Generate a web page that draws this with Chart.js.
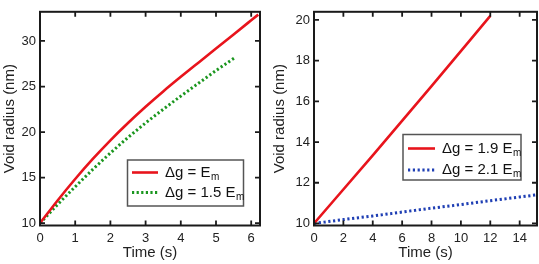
<!DOCTYPE html>
<html>
<head>
<meta charset="utf-8">
<script src="https://cdn.jsdelivr.net/npm/chart.js@4.4.1/dist/chart.umd.min.js"></script>
<style>
  body { margin: 0; background: #fff; width: 539px; height: 264px; overflow: hidden; position: relative; }
  canvas { position: absolute; top: 0; }
  #left { left: 0; }
  #right { left: 270px; }
</style>
</head>
<body>
<canvas id="left" width="270" height="264"></canvas>
<canvas id="right" width="269" height="264"></canvas>
<script>
// left panel: dg = Em and dg = 1.5 Em
var timeEm = [0, 0.5, 1, 1.5, 2, 2.5, 3, 3.5, 4, 4.5, 5, 5.5, 6, 6.2];
var radiusEm = [10, 12.5, 14.85, 17.05, 19.1, 21.0, 22.78, 24.46, 26.06, 27.62, 29.17, 30.72, 32.27, 32.89];
var time15 = [0, 0.5, 1, 1.5, 2, 2.5, 3, 3.5, 4, 4.5, 5, 5.55];
var radius15 = [10, 12.05, 14.0, 15.9, 17.7, 19.4, 21.0, 22.5, 23.95, 25.35, 26.75, 28.2];

// right panel: dg = 1.9 Em and dg = 2.1 Em
var time19 = [0, 4, 8, 12];
var radius19 = [10, 13.35, 16.75, 20.2];
var time21 = [0, 2, 4, 6, 8, 10, 12, 14, 15.2];
var radius21 = [10, 10.19, 10.37, 10.56, 10.75, 10.93, 11.12, 11.3, 11.41];

var legendLeft = ["Δg = E", "Δg = 1.5 E"];
var legendRight = ["Δg = 1.9 E", "Δg = 2.1 E"];
var legendSub = "m";

var FONT = "'Liberation Sans', Arial, sans-serif";

function pts(xs, ys) {
    return xs.map(function (x, i) { return {x: x, y: ys[i]}; });
}

// frame round the plot and inward ticks on all four sides
var framePlugin = {
    id: 'frame',
    afterDatasetsDraw: function (chart) {
        var ctx = chart.ctx, a = chart.chartArea, x = chart.scales.x, y = chart.scales.y;
        ctx.save();
        ctx.strokeStyle = '#1a1a1a';
        ctx.lineWidth = 2;
        ctx.strokeRect(a.left, a.top, a.right - a.left, a.bottom - a.top);
        ctx.lineWidth = 1.8;
        ctx.beginPath();
        x.ticks.forEach(function (t) {
            var px = x.getPixelForValue(t.value);
            ctx.moveTo(px, a.bottom); ctx.lineTo(px, a.bottom - 5);
            ctx.moveTo(px, a.top); ctx.lineTo(px, a.top + 5);
        });
        y.ticks.forEach(function (t) {
            var py = y.getPixelForValue(t.value);
            ctx.moveTo(a.left, py); ctx.lineTo(a.left + 5, py);
            ctx.moveTo(a.right, py); ctx.lineTo(a.right - 5, py);
        });
        ctx.stroke();
        ctx.restore();
    }
};

// boxed legend with subscripts
var boxLegend = {
    id: 'boxLegend',
    afterDraw: function (chart, args, o) {
        var ctx = chart.ctx;
        ctx.save();
        ctx.fillStyle = '#fff';
        ctx.fillRect(o.box[0], o.box[1], o.box[2], o.box[3]);
        ctx.strokeStyle = '#555';
        ctx.lineWidth = 1.5;
        ctx.strokeRect(o.box[0], o.box[1], o.box[2], o.box[3]);
        chart.data.datasets.forEach(function (ds, i) {
            var yy = o.rows[i];
            ctx.strokeStyle = ds.borderColor;
            ctx.lineWidth = ds.borderWidth;
            ctx.setLineDash(ds.borderDash || []);
            ctx.beginPath();
            ctx.moveTo(o.line[0], yy);
            ctx.lineTo(o.line[1], yy);
            ctx.stroke();
            ctx.setLineDash([]);
            ctx.fillStyle = '#111';
            ctx.textBaseline = 'middle';
            ctx.font = '15px ' + FONT;
            ctx.fillText(o.labels[i], o.textX, yy);
            var w = ctx.measureText(o.labels[i]).width;
            ctx.font = '10px ' + FONT;
            ctx.fillText(legendSub, o.textX + w + 0.5, yy + 4.5);
        });
        ctx.restore();
    }
};

function makeChart(id, datasets, xr, yr, yWidth, pad, legend) {
    return new Chart(document.getElementById(id), {
        type: 'line',
        data: {datasets: datasets},
        plugins: [framePlugin, boxLegend],
        options: {
            responsive: false,
            animation: false,
            layout: {padding: pad},
            elements: {point: {radius: 0}, line: {cubicInterpolationMode: 'monotone'}},
            scales: {
                x: {
                    type: 'linear', min: xr[0], max: xr[1],
                    grid: {display: false, drawTicks: false},
                    border: {display: false},
                    ticks: {stepSize: xr[2], includeBounds: false, autoSkip: false, maxRotation: 0,
                        padding: 5, color: '#222', font: {family: FONT, size: 13}},
                    title: {display: true, text: 'Time (s)', color: '#222',
                        font: {family: FONT, size: 15}, padding: {top: 0, bottom: 2}},
                    afterFit: function (s) { s.height = 38.5; }
                },
                y: {
                    type: 'linear', min: yr[0], max: yr[1],
                    grid: {display: false, drawTicks: false},
                    border: {display: false},
                    ticks: {stepSize: yr[2], includeBounds: false, padding: 4, color: '#222',
                        font: {family: FONT, size: 13}},
                    title: {display: true, text: 'Void radius (nm)', color: '#222',
                        font: {family: FONT, size: 15}, padding: {top: 1, bottom: 0}},
                    afterFit: function (s) { s.width = yWidth; }
                }
            },
            plugins: {
                legend: {display: false},
                tooltip: {enabled: false},
                boxLegend: legend
            }
        }
    });
}

makeChart('left', [
    {label: legendLeft[0], data: pts(timeEm, radiusEm), borderColor: '#e8141c', borderWidth: 2.6},
    {label: legendLeft[1], data: pts(time15, radius15), borderColor: '#1a961e', borderWidth: 3, borderDash: [2.2, 2.4]}
], [0, 6.25, 1], [9.75, 33.2, 5], 40, {top: 3, right: 10},
    {box: [127.5, 160, 116, 46], rows: [172.5, 192.5], line: [132, 158], textX: 165, labels: legendLeft});

makeChart('right', [
    {label: legendRight[0], data: pts(time19, radius19), borderColor: '#e8141c', borderWidth: 2.6},
    {label: legendRight[1], data: pts(time21, radius21), borderColor: '#1f3fb4', borderWidth: 3, borderDash: [2.2, 2.6]}
], [0, 15.18, 2], [9.9, 20.4, 2], 44, {top: 2.5, right: 2},
    {box: [133, 134.5, 118, 45.5], rows: [148.5, 170], line: [138, 165], textX: 172, labels: legendRight});
</script>
</body>
</html>
